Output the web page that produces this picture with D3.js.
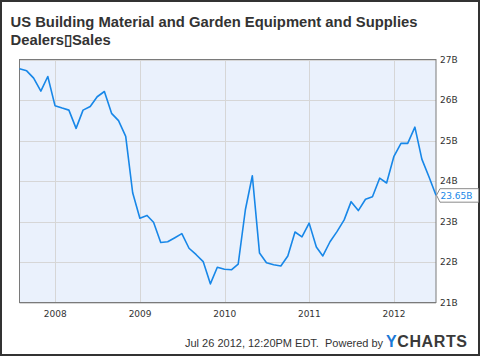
<!DOCTYPE html>
<html><head><meta charset="utf-8">
<script src="https://cdn.jsdelivr.net/npm/d3@7"></script>
<style>html,body{margin:0;padding:0;background:#fff;}svg{display:block;}</style>
</head><body>
<script>
const titleLines = ["US Building Material and Garden Equipment and Supplies", "Dealers\u25AFSales"];
const months = [
 "2007-07","2007-08","2007-09","2007-10","2007-11","2007-12",
 "2008-01","2008-02","2008-03","2008-04","2008-05","2008-06","2008-07","2008-08","2008-09","2008-10","2008-11","2008-12",
 "2009-01","2009-02","2009-03","2009-04","2009-05","2009-06","2009-07","2009-08","2009-09","2009-10","2009-11","2009-12",
 "2010-01","2010-02","2010-03","2010-04","2010-05","2010-06","2010-07","2010-08","2010-09","2010-10","2010-11","2010-12",
 "2011-01","2011-02","2011-03","2011-04","2011-05","2011-06","2011-07","2011-08","2011-09","2011-10","2011-11","2011-12",
 "2012-01","2012-02","2012-03","2012-04","2012-05","2012-06"];
const sales = [
 26.77,26.72,26.54,26.22,26.58,25.86,
 25.80,25.75,25.30,25.75,25.84,26.08,26.21,25.67,25.49,25.10,23.71,23.08,
 23.15,22.98,22.48,22.50,22.60,22.70,22.34,22.18,22.01,21.46,21.87,21.82,
 21.81,21.95,23.29,24.13,22.22,21.98,21.93,21.90,22.15,22.74,22.62,22.96,
 22.37,22.15,22.50,22.75,23.04,23.49,23.27,23.55,23.61,24.07,23.95,24.60,
 24.93,24.93,25.33,24.54,24.10,23.65];
const yTicks = [21,22,23,24,25,26,27];
const yTickLabels = ["21B","22B","23B","24B","25B","26B","27B"];
const xTicks = ["2008","2009","2010","2011","2012"];
const lastLabel = "23.65B";
const footerText = "Jul 26 2012, 12:20PM EDT.\u00a0\u00a0Powered by";

const W = 480, H = 356;
const L = 19.5, R = 436, T = 59.5, B = 302.5;
const svg = d3.select("body").append("svg").attr("width", W).attr("height", H);

// month-end dates
const dates = months.map(m => { const [yy, mo] = m.split("-").map(Number); return new Date(yy, mo, 0); });
const data = dates.map((d, i) => ({date: d, value: sales[i]}));

const x = d3.scaleTime().domain([dates[0], dates[dates.length - 1]]).range([L, R]);
const y = d3.scaleLinear().domain([21, 27]).range([B, T]);

svg.append("rect").attr("x", 1).attr("y", 1).attr("width", W - 2).attr("height", H - 2)
  .attr("fill", "#fff").attr("stroke", "#333").attr("stroke-width", 2);

// title
svg.append("g").selectAll("text").data(titleLines).join("text")
  .attr("x", 10.5).attr("y", (d, i) => 26.5 + i * 18)
  .attr("font-family", "'Liberation Sans', Arial, sans-serif").attr("font-weight", "bold")
  .attr("font-size", 14.8).attr("fill", "#333").text(d => d);

// plot background
svg.append("rect").attr("x", L).attr("y", T).attr("width", R - L).attr("height", B - T)
  .attr("fill", "#eaf1fc");

// gridlines
const yearDates = xTicks.map(s => new Date(+s, 0, 1));
svg.append("g").selectAll("line").data(yTicks).join("line")
  .attr("x1", L).attr("x2", R).attr("y1", d => Math.round(y(d)) + 0.5).attr("y2", d => Math.round(y(d)) + 0.5)
  .attr("stroke", "#d6d6d6").attr("stroke-width", 1);
svg.append("g").selectAll("line").data(yearDates).join("line")
  .attr("y1", T).attr("y2", B).attr("x1", d => Math.round(x(d)) + 0.5).attr("x2", d => Math.round(x(d)) + 0.5)
  .attr("stroke", "#d6d6d6").attr("stroke-width", 1);

// plot border
svg.append("rect").attr("x", L).attr("y", T).attr("width", R - L).attr("height", B - T)
  .attr("fill", "none").attr("stroke", "#7a7a7a").attr("stroke-width", 1);

// line
svg.append("path").datum(data)
  .attr("d", d3.line().x(d => x(d.date)).y(d => y(d.value)))
  .attr("fill", "none").attr("stroke", "#1787e8").attr("stroke-width", 1.6).attr("stroke-linejoin", "round");

// y labels
svg.append("g").selectAll("text").data(yTicks).join("text")
  .attr("x", 440).attr("y", d => y(d) + 3.3)
  .attr("font-family", "'DejaVu Sans', sans-serif").attr("font-size", 9)
  .attr("fill", "#333").text((d, i) => yTickLabels[i]);

// x labels
svg.append("g").selectAll("text").data(yearDates).join("text")
  .attr("x", d => x(d)).attr("y", 317).attr("text-anchor", "middle")
  .attr("font-family", "'DejaVu Sans', sans-serif").attr("font-size", 9)
  .attr("fill", "#333").text((d, i) => xTicks[i]);

// last value label
const ly = y(sales[sales.length - 1]);
svg.append("path")
  .attr("d", `M${R + 0.5},${ly} L${R + 4},${ly - 6.5} H478.5 V${ly + 7} H${R + 4} Z`)
  .attr("fill", "#fff").attr("stroke", "#8a8a8a").attr("stroke-width", 1);
svg.append("text").attr("x", 440.5).attr("y", ly + 3.5)
  .attr("font-family", "'DejaVu Sans', sans-serif").attr("font-size", 9)
  .attr("fill", "#1787e8").text(lastLabel);

// footer
svg.append("text").attr("x", 185).attr("y", 347)
  .attr("font-family", "'Liberation Sans', Arial, sans-serif").attr("font-size", 11)
  .attr("fill", "#333").text(footerText);
const logo = svg.append("text").attr("x", 386).attr("y", 347)
  .attr("font-family", "'Liberation Sans', Arial, sans-serif").attr("font-weight", "bold")
  .attr("font-size", 16).attr("letter-spacing", 0.6);
logo.append("tspan").attr("fill", "#1a78d6").text("Y");
logo.append("tspan").attr("fill", "#3a3a3a").text("CHARTS");
</script>
</body></html>
